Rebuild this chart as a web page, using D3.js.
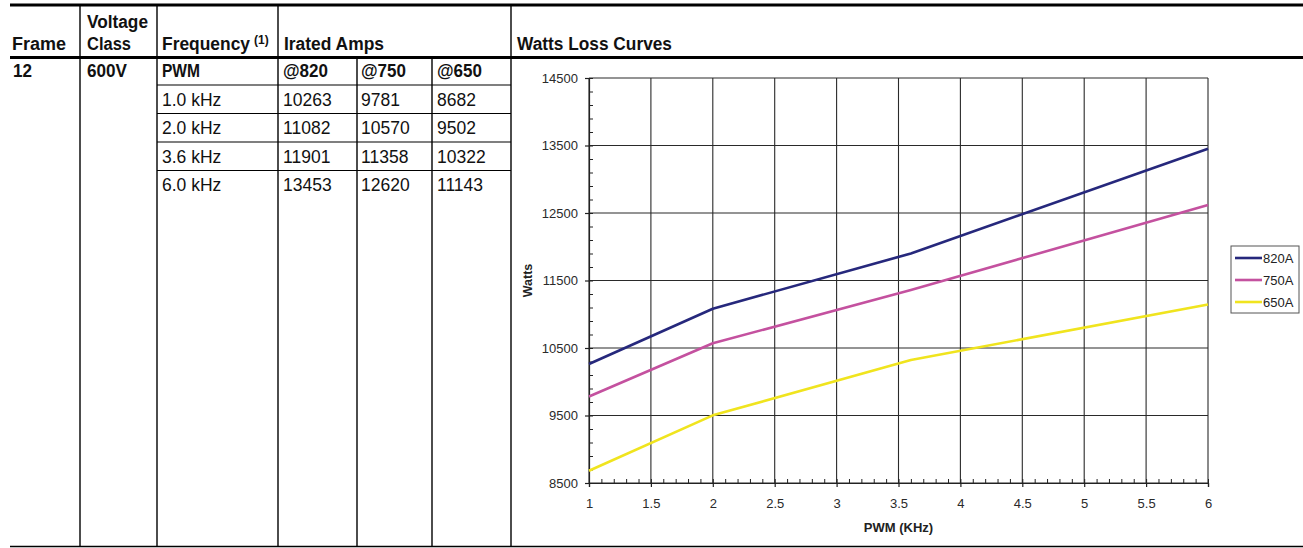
<!DOCTYPE html>
<html>
<head>
<meta charset="utf-8">
<script src="https://cdn.jsdelivr.net/npm/d3@7"></script>
<style>
  html, body { margin: 0; padding: 0; background: #fff; }
  svg { display: block; font-family: "Liberation Sans", Arial, Helvetica, sans-serif; }
</style>
</head>
<body>
<svg id="sheet" width="1303" height="548"></svg>
<script>
// ---- Table contents ----
const frameLabel = "12";
const voltageClass = "600V";
const modeLabel = "PWM";
const frequencies = ["1.0 kHz", "2.0 kHz", "3.6 kHz", "6.0 kHz"];
const ampHeaders = ["@820", "@750", "@650"];

// ---- Watts loss per PWM frequency, one array per rated current ----
const pwmKHz = [1, 2, 3.6, 6];
const watts820 = [10263, 11082, 11901, 13453];
const watts750 = [9781, 10570, 11358, 12620];
const watts650 = [8682, 9502, 10322, 11143];
const seriesNames = ["820A", "750A", "650A"];
const seriesColors = ["#26287c", "#c4519f", "#f0e41e"];

// ---- Axis ticks ----
const xTicks = [1, 1.5, 2, 2.5, 3, 3.5, 4, 4.5, 5, 5.5, 6];
const yTicks = [8500, 9500, 10500, 11500, 12500, 13500, 14500];

const series = [watts820, watts750, watts650].map((vals, i) => ({
  name: seriesNames[i],
  color: seriesColors[i],
  points: vals.map((v, j) => ({ x: pwmKHz[j], y: v }))
}));

const svg = d3.select("#sheet");

// ================= Table frame =================
const colX = [80, 157, 278, 357, 432, 511];
const topY = 5, headY = 57.5, bottomY = 546.5;
const rowLines = [85, 113.5, 142, 170.5];

const rules = svg.append("g").attr("stroke", "#000");
rules.append("line").attr("x1", 10).attr("x2", 1303).attr("y1", topY).attr("y2", topY).attr("stroke-width", 3);
rules.append("line").attr("x1", 10).attr("x2", 1303).attr("y1", headY).attr("y2", headY).attr("stroke-width", 3);
rules.append("line").attr("x1", 10).attr("x2", 1303).attr("y1", bottomY).attr("y2", bottomY).attr("stroke-width", 1.6);

// header column separators
[80, 157, 278, 511].forEach(x => {
  rules.append("line").attr("x1", x).attr("x2", x).attr("y1", topY).attr("y2", headY).attr("stroke-width", 1.4);
});
// body column separators
colX.forEach(x => {
  rules.append("line").attr("x1", x).attr("x2", x).attr("y1", headY).attr("y2", bottomY).attr("stroke-width", 1.4);
});
// row separators inside frequency / amps columns
rowLines.forEach(y => {
  rules.append("line").attr("x1", 157).attr("x2", 511).attr("y1", y).attr("y2", y).attr("stroke-width", 1.1);
});

// header texts (bold, slightly condensed)
function boldText(x, y, str, width, size) {
  const t = svg.append("text")
    .attr("x", x).attr("y", y)
    .attr("font-weight", "bold")
    .attr("font-size", size || 18)
    .attr("fill", "#111")
    .text(str);
  if (width) t.attr("textLength", width).attr("lengthAdjust", "spacingAndGlyphs");
  return t;
}
boldText(12, 50, "Frame", 54);
boldText(87, 28, "Voltage", 61);
boldText(87, 50, "Class", 44);
boldText(162, 50, "Frequency", 88);
svg.append("text").attr("x", 254).attr("y", 44).attr("font-weight", "bold")
  .attr("font-size", 12).attr("fill", "#111").text("(1)");
boldText(284, 50, "Irated Amps", 100);
boldText(517, 50, "Watts Loss Curves", 155);

// first body row (bold)
const bodyRowBase = [77, 105.5, 134, 162.5, 191];
boldText(13, bodyRowBase[0], frameLabel, 19);
boldText(87, bodyRowBase[0], voltageClass, 40);
boldText(162, bodyRowBase[0], modeLabel, 38);
const ampColX = [283, 361, 437];
ampHeaders.forEach((h, i) => boldText(ampColX[i], bodyRowBase[0], h, 45));

// frequency rows with loss values
const body = svg.append("g").attr("font-size", 17.5).attr("fill", "#111");
frequencies.forEach((f, r) => {
  const y = bodyRowBase[r + 1];
  body.append("text").attr("x", 162).attr("y", y).text(f);
  [watts820, watts750, watts650].forEach((vals, c) => {
    body.append("text").attr("x", ampColX[c]).attr("y", y).text(vals[r]);
  });
});

// ================= Chart =================
const plot = { left: 589, right: 1208, top: 78, bottom: 483 };
const x = d3.scaleLinear().domain([1, 6]).range([plot.left, plot.right]);
const y = d3.scaleLinear().domain([8500, 14500]).range([plot.bottom, plot.top]);

const chart = svg.append("g");

// grid
const grid = chart.append("g").attr("stroke", "#2a2a2a").attr("stroke-width", 1.1);
grid.selectAll("line.h").data(yTicks).join("line")
  .attr("x1", plot.left).attr("x2", plot.right)
  .attr("y1", d => y(d)).attr("y2", d => y(d));
grid.selectAll("line.v").data(xTicks).join("line")
  .attr("x1", d => x(d)).attr("x2", d => x(d))
  .attr("y1", plot.top).attr("y2", plot.bottom);

// minor ticks (inside the plot)
const yMinor = d3.range(8500, 14500.1, 200);
const xMinor = d3.range(1, 6.001, 0.1);
chart.append("g").attr("transform", `translate(${plot.left},0)`)
  .call(d3.axisRight(y).tickValues(yMinor).tickSize(4).tickFormat(""))
  .call(g => g.select(".domain").remove())
  .selectAll("line").attr("stroke", "#222");
chart.append("g").attr("transform", `translate(0,${plot.bottom})`)
  .call(d3.axisTop(x).tickValues(xMinor).tickSize(4).tickFormat(""))
  .call(g => g.select(".domain").remove())
  .selectAll("line").attr("stroke", "#222");

// major axes
const yAxis = chart.append("g").attr("transform", `translate(${plot.left},0)`)
  .call(d3.axisLeft(y).tickValues(yTicks).tickSize(4).tickPadding(7).tickFormat(d3.format("d")));
const xAxis = chart.append("g").attr("transform", `translate(0,${plot.bottom})`)
  .call(d3.axisBottom(x).tickValues(xTicks).tickSize(4).tickPadding(12).tickFormat(d3.format("")));
[yAxis, xAxis].forEach(a => {
  a.select(".domain").attr("stroke", "#222").attr("stroke-width", 1.2);
  a.selectAll(".tick line").attr("stroke", "#222").attr("stroke-width", 1.2);
  a.selectAll(".tick text").attr("font-size", 13).attr("fill", "#2a2a2a")
    .attr("font-family", "'Liberation Sans', Arial, sans-serif");
});

// axis titles
chart.append("text")
  .attr("transform", `translate(532,${(plot.top + plot.bottom) / 2}) rotate(-90)`)
  .attr("text-anchor", "middle").attr("font-weight", "bold").attr("font-size", 12.5)
  .attr("fill", "#222").text("Watts");
chart.append("text")
  .attr("x", (plot.left + plot.right) / 2).attr("y", 532)
  .attr("text-anchor", "middle").attr("font-weight", "bold").attr("font-size", 13)
  .attr("fill", "#222").text("PWM (KHz)");

// series lines
const line = d3.line().x(d => x(d.x)).y(d => y(d.y));
chart.append("g").selectAll("path").data(series).join("path")
  .attr("d", d => line(d.points))
  .attr("fill", "none")
  .attr("stroke", d => d.color)
  .attr("stroke-width", 2.6)
  .attr("stroke-linejoin", "round");

// legend
const legend = svg.append("g").attr("transform", "translate(1231,246)");
legend.append("rect").attr("width", 68).attr("height", 67)
  .attr("fill", "#fff").attr("stroke", "#555").attr("stroke-width", 1);
const items = legend.selectAll("g.item").data(series).join("g")
  .attr("transform", (d, i) => `translate(0,${12 + i * 22})`);
items.append("line").attr("x1", 4).attr("x2", 31).attr("y1", 0).attr("y2", 0)
  .attr("stroke", d => d.color).attr("stroke-width", 2.6);
items.append("text").attr("x", 32).attr("y", 0).attr("dy", "0.35em")
  .attr("font-size", 13).attr("fill", "#222").text(d => d.name);
</script>
</body>
</html>
